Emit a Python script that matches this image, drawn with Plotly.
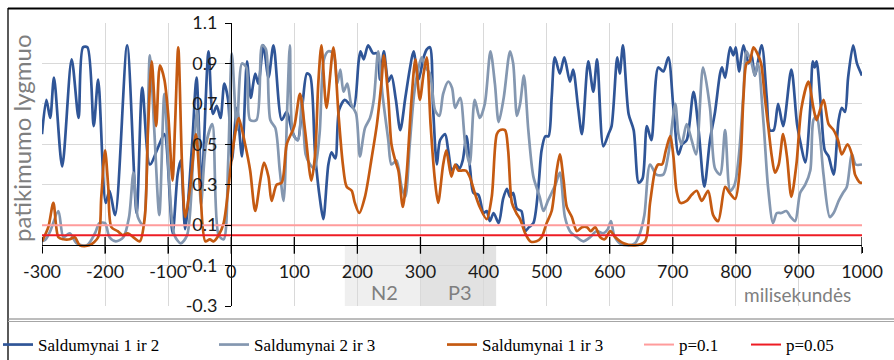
import plotly.graph_objects as go

# ---- data -------------------------------------------------------------
x_ticks = [-300, -200, -100, 0, 100, 200, 300, 400, 500, 600, 700, 800, 900, 1000]
x_tick_text = ["-300", "-200", "-100", "0", "100", "200", "300", "400", "500",
               "600", "700", "800", "900", "1000"]
y_ticks = [-0.3, -0.1, 0.1, 0.3, 0.5, 0.7, 0.9, 1.1]
y_tick_text = ["-0.3", "-0.1", "0.1", "0.3", "0.5", "0.7", "0.9", "1.1"]

# Saldumynai 1 ir 2
s12_x = [-300, -293, -287, -281, -268, -253, -242, -235, -228, -218, -211, -199, -193, -184,
         -165, -150, -141, -129, -114, -106, -93, -85, -80, -73, -62, -55, -47, -36, -29, -23,
         -17, -11, -5, 1, 9, 17, 25, 31, 38, 43, 51, 59, 67, 80, 88, 97, 105, 113, 120, 125,
         133, 141, 146, 154, 159, 165, 171, 180, 187, 194, 202, 205, 210, 217, 225, 231, 236,
         242, 249, 254, 261, 268, 276, 283, 289, 297, 305, 310, 315, 320, 326, 331, 339, 344,
         350, 357, 362, 367, 373, 379, 384, 392, 400, 405, 410, 416, 424, 431, 437, 442, 447,
         453, 460, 466, 472, 479, 487, 492, 498, 503, 508, 513, 521, 528, 537, 542, 550, 556,
         566, 574, 580, 590, 598, 603, 612, 616, 621, 630, 638, 646, 652, 659, 666, 677, 685,
         693, 701, 709, 715, 722, 733, 741, 750, 759, 767, 775, 778, 783, 791, 796, 800, 805,
         812, 820, 825, 830, 841, 849, 854, 860, 867, 875, 888, 897, 903, 910, 918, 922, 925,
         928, 935, 941, 947, 955, 963, 968, 973, 978, 986, 992, 1000]
s12_y = [0.55, 0.72, 0.63, 0.83, 0.39, 0.92, 0.63, 0.98, 0.98, 0.59, 0.82, 0.21, 0.27, 0.15,
         0.99, 0.16, 0.78, 0.40, 0.50, 0.55, 0.06, 0.35, 0.42, 0.08, 0.50, 0.83, 0.30, 0.96, 0.65, 0.69,
         0.63, 0.80, 0.72, 0.42, 0.68, 0.44, 0.91, 0.73, 0.85, 0.80, 0.99, 0.83, 0.99, 0.62, 0.66, 0.56, 0.52, 0.70, 0.85, 0.84,
         0.45, 0.22, 0.13, 0.40, 0.46, 0.43, 0.67, 0.72, 0.70, 0.68, 0.91, 0.96, 0.92, 0.99, 0.95, 0.95, 0.82,
         0.96, 0.81, 0.84, 0.72, 0.57, 0.73, 0.87, 0.96, 0.82, 0.93, 0.97, 0.98, 0.68, 0.40, 0.52, 0.55, 0.47,
         0.37, 0.40, 0.38, 0.42, 0.54, 0.37, 0.26, 0.25, 0.16, 0.17, 0.12, 0.16, 0.11, 0.23, 0.28, 0.24, 0.26,
         0.18, 0.17, 0.07, 0.09, 0.11, 0.29, 0.47, 0.54, 0.54, 0.73, 0.93, 0.85, 0.93, 0.81, 0.87, 0.68, 0.55,
         0.91, 0.76, 0.92, 0.49, 0.55, 0.59, 0.93, 0.85, 0.99, 0.65, 0.57, 0.31, 0.33, 0.59, 0.52, 0.88, 0.86,
         0.93, 0.68, 0.45, 0.50, 0.52, 0.76, 0.57, 0.29, 0.52, 0.66, 0.85, 0.88, 0.83, 0.98, 0.94, 0.98, 0.86,
         0.99, 0.90, 0.94, 0.84, 0.99, 0.73, 0.57, 0.57, 0.70, 0.59, 0.87, 0.60, 0.50, 0.41, 0.68, 0.91, 0.88,
         0.91, 0.68, 0.47, 0.44, 0.35, 0.62, 0.68, 0.66, 0.83, 0.99, 0.90, 0.84]

# Saldumynai 2 ir 3
s23_x = [-300, -294, -287, -274, -266, -256, -245, -229, -216, -209, -200, -193, -183, -171,
         -162, -155, -148, -140, -129, -122, -114, -106, -98, -90, -80, -70, -60, -54, -48, -40,
         -30, -20, -12, -5, 1, 9, 17, 24, 30, 40, 49, 55, 62, 70, 77, 83, 89, 93, 98, 106, 112,
         118, 125, 132, 140, 147, 154, 162, 168, 173, 178, 184, 190, 198, 204, 212, 220, 226,
         233, 240, 249, 254, 262, 270, 276, 283, 290, 297, 302, 308, 315, 323, 330, 336, 344,
         350, 355, 363, 371, 378, 386, 394, 402, 411, 418, 424, 432, 442, 447, 453, 458, 464,
         471, 479, 489, 495, 502, 508, 514, 521, 529, 537, 548, 558, 569, 579, 590, 597, 602,
         607, 616, 630, 640, 648, 655, 664, 674, 685, 693, 704, 709, 714, 722, 730, 737, 748,
         759, 767, 775, 783, 791, 798, 805, 812, 817, 825, 830, 835, 844, 851, 859, 865, 872,
         880, 887, 894, 902, 910, 918, 923, 928, 933, 939, 949, 955, 963, 970, 976, 984, 990, 1000]
s23_y = [0.02, 0.03, 0.07, 0.17, 0.04, 0.06, 0.01, 0.00, 0.06, 0.11, 0.11, 0.04, 0.02, 0.04,
         0.14, 0.36, 0.14, 0.10, 0.94, 0.57, 0.15, 0.75, 0.30, 0.05, 0.01, 0.05, 0.45, 0.67, 0.20, 0.50,
         0.60, 0.05, 0.03, 0.40, 0.95, 0.57, 0.90, 0.88, 0.62, 0.62, 0.99, 0.97, 0.62, 0.58, 0.37, 0.22, 0.70, 0.99, 0.55, 0.52, 0.73,
         0.45, 0.40, 0.38, 0.55, 0.92, 0.96, 0.95, 0.80, 0.87, 0.76, 0.80, 0.70, 0.65, 0.44, 0.58, 0.63, 0.72,
         0.96, 0.74, 0.52, 0.40, 0.42, 0.29, 0.24, 0.50, 0.75, 0.88, 0.93, 0.88, 0.85, 0.67, 0.64, 0.75, 0.81,
         0.78, 0.68, 0.73, 0.50, 0.40, 0.72, 0.63, 0.70, 0.96, 0.80, 0.61, 0.73, 0.96, 0.90, 0.64, 0.70, 0.84,
         0.57, 0.34, 0.24, 0.17, 0.22, 0.26, 0.30, 0.36, 0.14, 0.07, 0.04, 0.02, 0.04, 0.07, 0.06, 0.08, 0.12,
         0.05, 0.01, 0.00, 0.01, 0.06, 0.15, 0.40, 0.35, 0.35, 0.45, 0.70, 0.55, 0.50, 0.60, 0.52, 0.45, 0.88,
         0.68, 0.38, 0.35, 0.57, 0.27, 0.30, 0.45, 0.75, 0.96, 0.90, 0.84, 0.90, 0.60, 0.29, 0.11, 0.16, 0.16,
         0.17, 0.14, 0.12, 0.26, 0.30, 0.37, 0.62, 0.64, 0.55, 0.35, 0.14, 0.16, 0.22, 0.26, 0.29, 0.45, 0.40, 0.40]

# Saldumynai 1 ir 3
s13_x = [-300, -290, -282, -274, -266, -256, -248, -240, -225, -211, -206, -200, -195, -190,
         -180, -172, -164, -155, -145, -137, -132, -126, -119, -113, -106, -100, -93, -89, -84,
         -78, -73, -65, -56, -49, -41, -34, -28, -20, -12, -5, 1, 9, 12, 22, 30, 38, 46, 52, 59,
         64, 72, 80, 88, 100, 109, 117, 127, 133, 138, 143, 151, 162, 170, 177, 183, 191, 196,
         203, 212, 223, 231, 238, 242, 249, 254, 260, 265, 272, 278, 286, 292, 299, 305, 310,
         316, 323, 328, 336, 341, 349, 355, 360, 365, 372, 378, 386, 394, 405, 413, 421, 426,
         434, 439, 445, 452, 458, 466, 474, 484, 492, 500, 508, 516, 521, 527, 532, 540, 548,
         556, 564, 570, 577, 585, 592, 601, 609, 622, 640, 656, 664, 672, 677, 683, 689, 696,
         701, 706, 712, 722, 730, 738, 746, 756, 764, 772, 783, 790, 799, 807, 812, 817, 822,
         828, 834, 840, 846, 852, 857, 862, 868, 875, 881, 888, 896, 904, 915, 923, 928, 939,
         947, 955, 962, 968, 977, 984, 989, 997, 1000]
s13_y = [0.02, 0.09, 0.21, 0.04, 0.03, 0.03, 0.04, 0.00, 0.00, 0.04, 0.24, 0.47, 0.29, 0.09,
         0.07, 0.05, 0.06, 0.04, 0.02, 0.14, 0.57, 0.91, 0.59, 0.89, 0.82, 0.65, 0.32, 0.60, 0.98,
         0.40, 0.14, 0.29, 0.55, 0.27, 0.02, 0.03, 0.02, 0.05, 0.11, 0.27, 0.44, 0.60, 0.63, 0.50, 0.37, 0.17, 0.32, 0.41, 0.34,
         0.22, 0.30, 0.31, 0.50, 0.59, 0.75, 0.57, 0.32, 0.45, 0.80, 0.99, 0.68, 0.98, 0.65, 0.40, 0.29, 0.27, 0.21,
         0.16, 0.24, 0.44, 0.60, 0.80, 0.94, 0.73, 0.50, 0.42, 0.37, 0.19, 0.35, 0.73, 0.92, 0.72, 0.85, 0.93,
         0.60, 0.32, 0.21, 0.40, 0.47, 0.34, 0.40, 0.37, 0.37, 0.37, 0.34, 0.26, 0.19, 0.13, 0.24, 0.55, 0.57,
         0.57, 0.47, 0.21, 0.16, 0.13, 0.06, 0.02, 0.02, 0.04, 0.11, 0.17, 0.37, 0.45, 0.32, 0.19, 0.14, 0.07,
         0.09, 0.09, 0.07, 0.09, 0.04, 0.03, 0.07, 0.04, 0.01, 0.00, 0.02, 0.21, 0.37, 0.40, 0.40, 0.47, 0.54,
         0.44, 0.27, 0.21, 0.22, 0.25, 0.27, 0.22, 0.27, 0.15, 0.12, 0.29, 0.26, 0.23, 0.40, 0.73, 0.90, 0.91,
         0.98, 0.95, 0.90, 0.73, 0.57, 0.44, 0.36, 0.40, 0.55, 0.44, 0.24, 0.40, 0.68, 0.81, 0.68, 0.62, 0.72,
         0.60, 0.57, 0.52, 0.45, 0.50, 0.45, 0.35, 0.31, 0.31]

# significance thresholds
p_names = ["p=0.1", "p=0.05"]
p_levels = [0.1, 0.05]

# ERP component windows (ms)
win_names = ["N2", "P3"]
win_start = [180, 300]
win_end = [300, 420]

# ---- styling ----------------------------------------------------------
X_RANGE = [-300, 1000]
Y_RANGE = [-0.3, 1.1]
series = [
    ("Saldumynai 1 ir 2", s12_x, s12_y, "#2f5597"),
    ("Saldumynai 2 ir 3", s23_x, s23_y, "#8497b0"),
    ("Saldumynai 1 ir 3", s13_x, s13_y, "#c55a11"),
]
p_colors = ["#ff9c9c", "#ee1c24"]
win_colors = ["#efefef", "#e2e2e2"]
legend_left_px = [-2, 214, 442, 639, 746]

W, H = 894, 360
ML, MR, MT, MB = 42, 32, 23, 54
PW, PH = W - ML - MR, H - MT - MB


def px_to_paper_x(px):
    return (px - ML) / PW


def px_to_paper_y(py):
    return (H - MB - py) / PH


fig = go.Figure()

legend_ids = ["legend", "legend2", "legend3", "legend4", "legend5"]
k = 0
for name, xs, ys, col in series:
    fig.add_trace(go.Scatter(
        x=xs, y=ys, name=name, mode="lines",
        line=dict(color=col, width=2.7, shape="spline", smoothing=0.8),
        legend=legend_ids[k], hoverinfo="skip"))
    k += 1

for name, lvl, col in zip(p_names, p_levels, p_colors):
    fig.add_trace(go.Scatter(
        x=X_RANGE, y=[lvl, lvl], name=name, mode="lines",
        line=dict(color=col, width=2), legend=legend_ids[k], hoverinfo="skip"))
    k += 1

# tick marks crossing the horizontal axis
fig.add_trace(go.Scatter(
    x=x_ticks, y=[0] * len(x_ticks), mode="markers", showlegend=False,
    hoverinfo="skip",
    marker=dict(symbol="line-ns", size=12, color="black",
                line=dict(color="black", width=1.3))))

# component windows below the axis
shapes = []
for s, e, c in zip(win_start, win_end, win_colors):
    shapes.append(dict(type="rect", xref="x", yref="y", x0=s, x1=e,
                       y0=Y_RANGE[0], y1=0, fillcolor=c, line=dict(width=0),
                       layer="below"))

# frame of the figure
shapes += [
    dict(type="line", xref="paper", yref="paper",
         x0=px_to_paper_x(8), x1=px_to_paper_x(W + 5),
         y0=px_to_paper_y(8.5), y1=px_to_paper_y(8.5),
         line=dict(color="black", width=2)),
    dict(type="line", xref="paper", yref="paper",
         x0=px_to_paper_x(8), x1=px_to_paper_x(8),
         y0=px_to_paper_y(8), y1=px_to_paper_y(H + 5),
         line=dict(color="black", width=1.3)),
    dict(type="line", xref="paper", yref="paper",
         x0=px_to_paper_x(8), x1=px_to_paper_x(W + 5),
         y0=px_to_paper_y(319), y1=px_to_paper_y(319),
         line=dict(color="#7a7a7a", width=1)),
    dict(type="line", xref="paper", yref="paper",
         x0=px_to_paper_x(8), x1=px_to_paper_x(W + 5),
         y0=px_to_paper_y(321.5), y1=px_to_paper_y(321.5),
         line=dict(color="#a6a6a6", width=1)),
]

gray = "#7f7f7f"
annotations = [
    dict(text="patikimumo lygmuo", xref="paper", yref="paper",
         x=px_to_paper_x(21), y=px_to_paper_y(138), textangle=-90,
         showarrow=False, xanchor="center", yanchor="middle",
         font=dict(family="Lato", size=24, color=gray)),
    dict(text="milisekundės", xref="x", yref="y", x=986, y=-0.245,
         showarrow=False, xanchor="right", yanchor="middle",
         font=dict(family="Lato", size=19, color=gray)),
]
for nm, s, e in zip(win_names, win_start, win_end):
    annotations.append(dict(text=nm, xref="x", yref="y", x=(s + e) / 2 + 3,
                            y=-0.23, showarrow=False, xanchor="center",
                            yanchor="middle",
                            font=dict(family="Lato", size=20, color=gray)))

layout_legends = {}
for lid, lpx in zip(legend_ids, legend_left_px):
    layout_legends[lid] = dict(
        x=px_to_paper_x(lpx), y=px_to_paper_y(345), xanchor="left",
        yanchor="middle", orientation="h", bgcolor="rgba(0,0,0,0)",
        font=dict(family="Liberation Serif", size=17, color="black"))

fig.update_layout(
    width=W, height=H, margin=dict(l=ML, r=MR, t=MT, b=MB, autoexpand=False),
    paper_bgcolor="white", plot_bgcolor="white",
    shapes=shapes, annotations=annotations, hovermode=False,
    font=dict(family="Lato", size=18, color="#1a1a1a"),
    xaxis=dict(range=X_RANGE, tickvals=x_ticks, ticktext=x_tick_text,
               showgrid=True, gridcolor="#d9d9d9", gridwidth=1,
               zeroline=False, showline=True, linecolor="black", linewidth=1.3,
               ticks="outside", ticklen=6, tickcolor="black", tickwidth=1.3,
               anchor="free", position=(0 - Y_RANGE[0]) / (Y_RANGE[1] - Y_RANGE[0]),
               ticklabelstandoff=4, tickfont=dict(family="Lato", size=18, color="#1a1a1a")),
    yaxis=dict(range=Y_RANGE, tickvals=y_ticks, ticktext=y_tick_text,
               showgrid=True, gridcolor="#d9d9d9", gridwidth=1,
               zeroline=False, showline=True, linecolor="black", linewidth=1.3,
               ticks="outside", ticklen=6, tickcolor="black", tickwidth=1.3,
               anchor="free", position=(0 - X_RANGE[0]) / (X_RANGE[1] - X_RANGE[0]),
               ticklabelstandoff=4, tickfont=dict(family="Lato", size=18, color="#1a1a1a")),
    **layout_legends,
)

fig.write_html("out.html")
